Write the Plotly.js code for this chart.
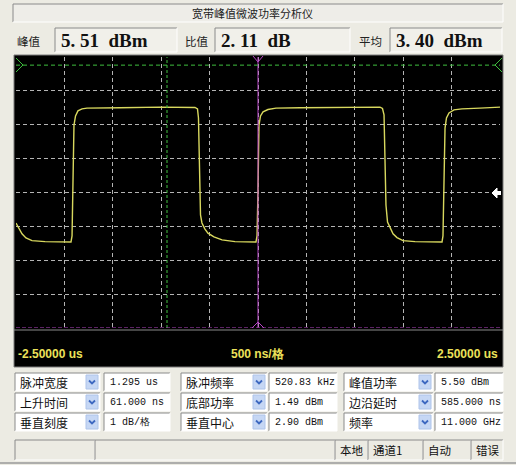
<!DOCTYPE html>
<html><head><meta charset="utf-8">
<script src="https://cdn.plot.ly/plotly-3.0.1.min.js"></script>
<style>html,body{margin:0;padding:0;background:#ecebe3;}#chart{width:516px;height:465px;}</style>
</head><body><div id="chart"></div>
<script>
// ---- data ----
const titleText = '宽带峰值微波功率分析仪';
const readoutLabels = ['峰值', '比值', '平均'];
const readoutValues = ['5. 51  dBm', '2. 11  dB', '3. 40  dBm'];
const timeUs = [-2.500,-2.469,-2.438,-2.397,-2.335,-2.200,-1.932,-1.921,-1.911,-1.901,-1.885,-1.860,-1.818,-1.767,-1.426,-1.012,-0.651,-0.625,-0.615,-0.604,-0.594,-0.579,-0.548,-0.517,-0.455,-0.372,-0.238,-0.021,-0.010,0.000,0.010,0.026,0.052,0.103,0.186,0.434,0.847,1.260,1.286,1.302,1.312,1.322,1.338,1.364,1.395,1.436,1.498,1.622,1.901,1.911,1.921,1.932,1.947,1.973,2.025,2.107,2.293,2.500];
const powerDbm = [2.00,1.82,1.68,1.56,1.48,1.45,1.44,1.62,2.97,4.89,5.16,5.31,5.37,5.39,5.40,5.42,5.41,5.37,5.10,3.56,2.24,2.00,1.82,1.70,1.59,1.50,1.45,1.44,1.62,2.97,4.89,5.16,5.28,5.35,5.39,5.40,5.41,5.42,5.38,5.19,3.86,2.53,2.03,1.85,1.68,1.57,1.48,1.45,1.44,1.62,2.97,4.80,5.10,5.25,5.34,5.37,5.39,5.42];
const timeRangeUs = [-2.5, 2.5];
const timePerDivUs = 0.5;
const verticalCenterDbm = 2.90;
const dbPerDiv = 1;
const verticalDivs = 8;
const markerTimeUs = [-0.94];      // green marker line
const centerTimeUs = [0];          // magenta trigger line
const refLevelDbm = [6.66];        // green reference level
const axisLabels = ['-2.50000 us', '500 ns/格', '2.50000 us'];
const paramNames = [['脉冲宽度','脉冲频率','峰值功率'],['上升时间','底部功率','边沿延时'],['垂直刻度','垂直中心','频率']];
const paramValues = [['1.295 us','520.83 kHz','5.50 dBm'],['61.000 ns','1.49 dBm','585.000 ns'],['1 dB/格','2.90 dBm','11.000 GHz']];
const statusTexts = ['本地', '通道1', '自动', '错误'];

// ---- layout helpers (pixel -> paper) ----
const W = 516, H = 465;
const X = p => p / W, Y = p => 1 - p / H;
const shapes = [], ann = [];
function rect(x0,y0,x1,y1,fill,line,lw,layer){shapes.push({type:'rect',xref:'paper',yref:'paper',x0:X(x0),x1:X(x1),y0:Y(y1),y1:Y(y0),fillcolor:fill,line:{color:line||'rgba(0,0,0,0)',width:lw==null?1:lw},layer:layer||'below'});}
function seg(x0,y0,x1,y1,color,w,dash,layer){shapes.push({type:'line',xref:'paper',yref:'paper',x0:X(x0),y0:Y(y0),x1:X(x1),y1:Y(y1),line:{color:color,width:w,dash:dash||'solid'},layer:layer||'below'});}
function path(pts,color,w,fill){let d=pts.map((p,i)=>(i?'L':'M')+X(p[0]).toFixed(5)+','+Y(p[1]).toFixed(5)).join(' ');if(fill)d+=' Z';shapes.push({type:'path',xref:'paper',yref:'paper',path:d,line:{color:color,width:w},fillcolor:fill||'rgba(0,0,0,0)',layer:'above'});}
function sunk(x0,y0,x1,y1,fill){rect(x0,y0,x1,y1,fill,null,0);seg(x0,y0,x1,y0,'#8a8a8a',1);seg(x0,y0,x0,y1,'#8a8a8a',1);seg(x0,y1,x1,y1,'#ffffff',1);seg(x1,y0,x1,y1,'#ffffff',1);}
function txt(x,y,t,size,family,color,anchor,bold){t=t.replace(/ /g,'\u00a0');ann.push({xref:'paper',yref:'paper',x:X(x),y:Y(y),text:bold?'<b>'+t+'</b>':t,showarrow:false,xanchor:anchor||'left',yanchor:'middle',font:{size:size,family:family,color:color||'#111'}});}
const CJK = 'Noto Sans CJK SC', MONO = 'Liberation Mono';

// title bar
sunk(13,4,503,22,'#eeede8');
txt(252,13,titleText,11,CJK,'#222','center');

// readouts
const rdLabelX = [15,183,357], rdBox = [[55,177],[215,350],[390,502]];
readoutLabels.forEach((l,i)=>{
  txt(rdLabelX[i],41,l,11.5,CJK,'#222');
  sunk(rdBox[i][0],28,rdBox[i][1],52,'#f1f0ea');
  txt(rdBox[i][0]+4,40,readoutValues[i],19,'Liberation Serif','#111','left',true);
});

// scope screen
rect(14,55,503,367,'#000000','#7a7a7a',1);
seg(14,330,503,330,'#8a8a8a',1.2,'solid','above');
txt(16,354,axisLabels[0],12,'Liberation Sans','#ece25a','left',true);
txt(258,354,axisLabels[1],12,'Liberation Sans','#ece25a','center',true);
txt(500,354,axisLabels[2],12,'Liberation Sans','#ece25a','right',true);

// data-space marker lines
const yLo = verticalCenterDbm - dbPerDiv*verticalDivs/2, yHi = verticalCenterDbm + dbPerDiv*verticalDivs/2;
markerTimeUs.forEach(t=>shapes.push({type:'line',xref:'x',yref:'y',x0:t,x1:t,y0:yLo,y1:yHi,line:{color:'#3fbf3f',width:1,dash:'3px,2px'}}));
centerTimeUs.forEach(t=>shapes.push({type:'line',xref:'x',yref:'y',x0:t,x1:t,y0:yLo,y1:yHi,line:{color:'#b844c8',width:1}}));
refLevelDbm.forEach(v=>shapes.push({type:'line',xref:'x',yref:'y',x0:timeRangeUs[0],x1:timeRangeUs[1],y0:v,y1:v,line:{color:'#3fbf3f',width:1,dash:'4px,3px'}}));
shapes.push({type:'line',xref:'x',yref:'y',x0:timeRangeUs[0],x1:timeRangeUs[1],y0:yLo,y1:yLo,line:{color:'#b844c8',width:1,dash:'4px,2px'}});

// small markers
path([[16,58],[23,65],[16,72]],'#3fbf3f',1);
path([[502,58],[495,65],[502,72]],'#3fbf3f',1);
path([[253,56],[258,62],[263,56]],'#b844c8',1);
path([[252,328],[258,322],[264,328]],'#b844c8',1);
path([[492,193],[497,188],[497,198]],'#ffffff',1,'#ffffff');
rect(497,191,501,195,'#ffffff',null,0,'above');

// parameter panel
const rows = [[373,391],[393,411],[413,431]];
const cols = [{c:[15,100],v:[104,170]},{c:[181,267],v:[269,337]},{c:[344,433],v:[435,503]}];
rows.forEach((r,ri)=>{
  cols.forEach((c,ci)=>{
    sunk(c.c[0],r[0],c.c[1],r[1],'#ffffff');
    rect(c.c[1]-14,r[0]+2,c.c[1]-2,r[1]-2,'#c6d7f4','#aec4ea',1,'above');
    const cx=c.c[1]-8, cy=(r[0]+r[1])/2;
    path([[cx-3,cy-1.5],[cx,cy+1.5],[cx+3,cy-1.5]],'#3d68c0',1.8);
    txt(c.c[0]+3,cy,paramNames[ri][ci],12,CJK,'#111');
    sunk(c.v[0],r[0],c.v[1],r[1],'#ffffff');
    txt(c.v[0]+4,cy,paramValues[ri][ci],10,MONO,'#111');
  });
});

// status bar
const stCells = [[15,95],[95,335],[335,368],[368,423],[423,471],[471,503]];
stCells.forEach(c=>sunk(c[0],440,c[1],460,'#ecebe3'));
const stX = [338,371,426,474];
statusTexts.forEach((s,i)=>txt(stX[i],450,s,11.5,CJK,'#111'));
seg(0,463,516,463,'#9a9a9a',1.5);

const trace = {type:'scatter',mode:'lines',x:timeUs,y:powerDbm,line:{color:'#d8d85e',width:1.4},hoverinfo:'skip',showlegend:false};

const layout = {
  width:W,height:H,margin:{l:0,r:0,t:0,b:0,pad:0},
  paper_bgcolor:'#ecebe3',plot_bgcolor:'rgba(0,0,0,0)',showlegend:false,
  xaxis:{domain:[X(16),X(500)],range:timeRangeUs,tick0:timeRangeUs[0],dtick:timePerDivUs,showgrid:true,gridcolor:'#b4b4b4',griddash:'4px,3px',gridwidth:1,zeroline:false,showline:false,showticklabels:false,ticks:'',fixedrange:true},
  yaxis:{domain:[Y(328),Y(57)],range:[yLo,yHi],tick0:yLo,dtick:dbPerDiv,showgrid:true,gridcolor:'#b4b4b4',griddash:'4px,3px',gridwidth:1,zeroline:false,showline:false,showticklabels:false,ticks:'',fixedrange:true},
  shapes:shapes,annotations:ann
};
Plotly.newPlot('chart',[trace],layout,{displayModeBar:false,staticPlot:true});
</script></body></html>
